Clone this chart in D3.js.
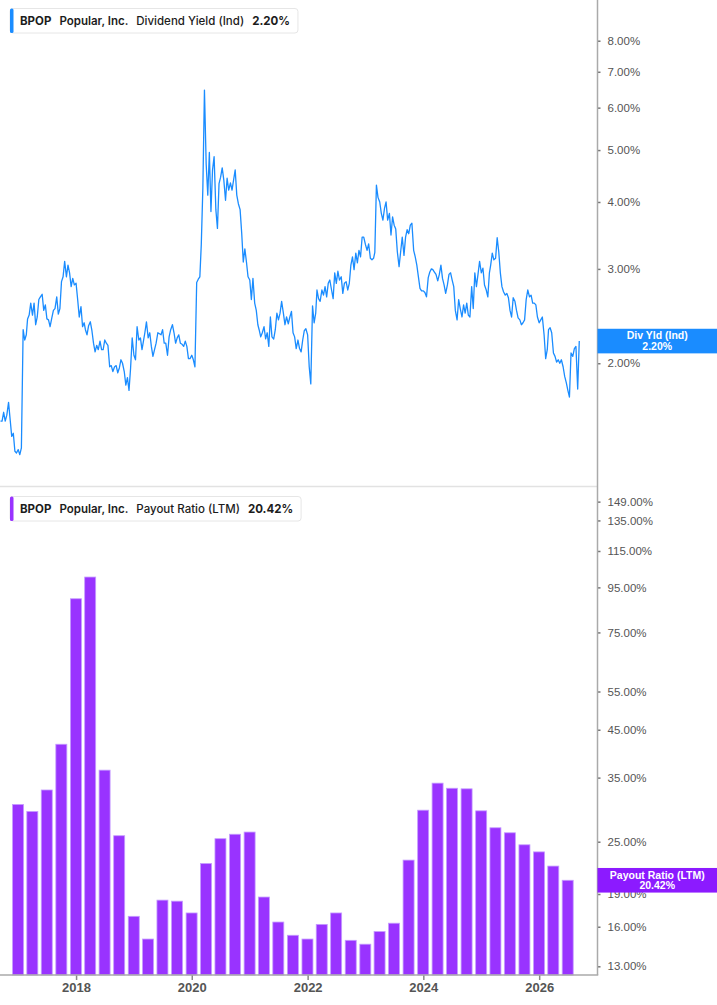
<!DOCTYPE html>
<html>
<head>
<meta charset="utf-8">
<script src="https://cdn.jsdelivr.net/npm/d3@7"></script>
<style>
  html, body { margin: 0; padding: 0; background: #fff; }
  svg { display: block; }
  .valueAxis text { font-family: 'Liberation Sans', Arial, sans-serif; font-size: 11.5px; fill: #555; }
  .valueAxis line { stroke: #777; stroke-width: 1.5; }
  .timeAxis text { font-family: 'Liberation Sans', Arial, sans-serif; font-size: 13px; font-weight: bold; fill: #555; }
  .timeAxis line { stroke: #888; stroke-width: 1.5; }
  .legendText { font-family: Inter, 'Noto Sans', sans-serif; font-size: 11.5px; fill: #1c1c1c; }
  .lastLabel { font-family: 'Liberation Sans', Arial, sans-serif; font-size: 10.5px; font-weight: bold; fill: #fff; }
</style>
</head>
<body>
<div id="chart"></div>
<script>
// Dividend yield (%), read on the 1st, 11th and 21st of every month
const sampleDays = [1, 11, 21];
const yield2016 = [1.56, 1.56, 1.62, 1.56, 1.60, 1.69, 1.57, 1.46, 1.48, 1.37, 1.36];
const yield2017 = [1.38, 1.35, 1.39, 2.31, 2.21, 2.26, 2.42, 2.46, 2.59, 2.46, 2.59, 2.36,
    2.44, 2.63, 2.66, 2.69, 2.51, 2.57, 2.42, 2.41, 2.34, 2.43, 2.51, 2.53,
    2.66, 2.47, 2.53, 2.84, 2.90, 3.10, 2.90, 3.05, 2.95, 2.78, 2.88, 2.80];
const yield2018 = [2.82, 2.63, 2.44, 2.55, 2.34, 2.38, 2.31, 2.26, 2.35, 2.39, 2.30, 2.18,
    2.10, 2.16, 2.12, 2.20, 2.12, 2.12, 2.21, 2.18, 2.16, 1.97, 1.98, 1.93,
    1.97, 1.98, 1.92, 1.96, 2.03, 2.00, 1.93, 1.82, 1.88, 1.78, 1.96, 2.23];
const yield2019 = [2.07, 2.03, 2.34, 2.21, 2.23, 2.12, 2.19, 2.28, 2.39, 2.23, 2.28, 2.15,
    2.06, 2.12, 2.18, 2.28, 2.27, 2.26, 2.31, 2.18, 2.18, 2.07, 2.24, 2.31,
    2.36, 2.28, 2.18, 2.23, 2.26, 2.18, 2.17, 2.15, 2.20, 2.15, 2.04, 2.04];
const yield2020 = [2.07, 2.03, 1.97, 2.83, 2.87, 2.90, 3.33, 4.25, 6.47, 4.70, 4.12, 4.95,
    3.84, 4.59, 4.86, 3.87, 3.57, 4.33, 4.45, 4.63, 4.40, 4.03, 4.43, 4.21,
    4.34, 4.21, 4.40, 4.59, 4.12, 3.97, 3.87, 3.50, 3.09, 3.27, 3.09, 2.90];
const yield2021 = [2.86, 2.63, 2.88, 2.59, 2.51, 2.36, 2.31, 2.24, 2.28, 2.34, 2.22, 2.28,
    2.15, 2.44, 2.24, 2.22, 2.31, 2.48, 2.41, 2.48, 2.61, 2.48, 2.36, 2.44,
    2.37, 2.44, 2.50, 2.28, 2.24, 2.13, 2.21, 2.13, 2.10, 2.21, 2.30, 2.32];
const yield2022 = [2.26, 1.97, 1.83, 2.56, 2.38, 2.48, 2.74, 2.64, 2.61, 2.74, 2.68, 2.78,
    2.66, 2.82, 2.86, 2.74, 2.64, 2.95, 2.82, 2.97, 2.86, 2.90, 2.70, 2.82,
    2.84, 2.74, 2.82, 3.05, 3.16, 2.99, 3.21, 3.08, 3.25, 3.16, 3.44, 3.44];
const yield2023 = [3.33, 3.25, 3.34, 3.14, 3.12, 3.14, 3.22, 4.30, 4.08, 4.00, 3.81, 3.70,
    3.89, 4.00, 3.70, 3.81, 3.47, 3.75, 3.62, 3.56, 3.23, 3.03, 3.23, 3.44,
    3.18, 3.44, 3.55, 3.49, 3.62, 3.65, 3.25, 3.16, 3.05, 2.90, 2.76, 2.73];
const yield2024 = [2.73, 2.71, 2.66, 2.89, 2.96, 3.00, 2.99, 2.96, 2.93, 2.85, 2.93, 3.05,
    2.88, 2.80, 2.70, 2.80, 2.93, 2.95, 2.86, 2.78, 2.51, 2.41, 2.63, 2.53,
    2.44, 2.57, 2.48, 2.59, 2.46, 2.44, 2.78, 2.53, 2.95, 2.78, 2.93, 3.10];
const yield2025 = [2.95, 3.01, 2.80, 2.74, 2.66, 2.95, 3.05, 3.21, 3.12, 3.14, 3.43, 3.23,
    2.95, 2.78, 2.72, 2.68, 2.70, 2.65, 2.51, 2.44, 2.65, 2.61, 2.51, 2.43,
    2.41, 2.36, 2.38, 2.41, 2.63, 2.74, 2.66, 2.68, 2.59, 2.59, 2.57, 2.44];
const yield2026 = [2.38, 2.41, 2.44, 2.26, 2.04, 2.12, 2.31, 2.33, 2.28, 2.09, 2.06, 2.01,
    2.03, 2.00, 2.03, 1.97, 1.89, 1.84, 1.78, 1.73, 2.09, 2.06, 2.13, 2.15,
    1.79, 2.20];

// Payout ratio (LTM, %), one bar per fiscal quarter end
const payoutQuarters = ['2016-12-31',
    '2017-03-31', '2017-06-30', '2017-09-30', '2017-12-31',
    '2018-03-31', '2018-06-30', '2018-09-30', '2018-12-31',
    '2019-03-31', '2019-06-30', '2019-09-30', '2019-12-31',
    '2020-03-31', '2020-06-30', '2020-09-30', '2020-12-31',
    '2021-03-31', '2021-06-30', '2021-09-30', '2021-12-31',
    '2022-03-31', '2022-06-30', '2022-09-30', '2022-12-31',
    '2023-03-31', '2023-06-30', '2023-09-30', '2023-12-31',
    '2024-03-31', '2024-06-30', '2024-09-30', '2024-12-31',
    '2025-03-31', '2025-06-30', '2025-09-30', '2025-12-31',
    '2026-03-31', '2026-06-30'];
const payoutRatios = [30.4,
    29.3, 32.8, 41.7, 89.5,
    100.3, 36.4, 25.8, 16.9,
    15.0, 18.4, 18.3, 17.2,
    22.3, 25.4, 26.0, 26.3,
    18.7, 16.4, 15.3, 15.0,
    16.2, 17.2, 14.9, 14.6,
    15.6, 16.3, 22.7, 29.5,
    34.0, 33.1, 33.0, 29.4,
    26.9, 26.2, 24.6, 23.7,
    22.0, 20.42];

const yieldTicks = [2, 3, 4, 5, 6, 7, 8];
const payoutTicks = [13, 16, 19, 25, 35, 45, 55, 75, 95, 115, 135, 149];
const yearTicks = [2018, 2020, 2022, 2024, 2026];

const yieldLegend = ['BPOP', 'Popular, Inc.', 'Dividend Yield (Ind)', '2.20%'];
const payoutLegend = ['BPOP', 'Popular, Inc.', 'Payout Ratio (LTM)', '20.42%'];
const yieldBadge = ['Div Yld (Ind)', '2.20%'];
const payoutBadge = ['Payout Ratio (LTM)', '20.42%'];

const blue = '#1a8cff',
    purple = '#9933ff',
    purpleBadge = '#8c1aff';

function buildYieldSeries(){
    let years = [[2016, yield2016, 25], [2017, yield2017, 0], [2018, yield2018, 0],
        [2019, yield2019, 0], [2020, yield2020, 0], [2021, yield2021, 0],
        [2022, yield2022, 0], [2023, yield2023, 0], [2024, yield2024, 0],
        [2025, yield2025, 0], [2026, yield2026, 0]];
    let points = [];
    years.forEach(([year, values, first]) => {
        values.forEach((value, i) => {
            let slot = first + i;
            points.push({ date: new Date(year, Math.floor(slot / 3), sampleDays[slot % 3]), value });
        });
    });
    return points;
}

function initChart(targetElemSelector, width, height){
    return d3.select(targetElemSelector)
        .append('svg')
        .attr('width', width)
        .attr('height', height);
}

function addLegend(svg, parts, color, top){
    let g = svg.append('g').attr('transform', 'translate(10,' + top + ')');
    let box = g.append('rect')
        .attr('y', 0.5).attr('height', 24.5)
        .attr('rx', 3).attr('ry', 3)
        .attr('fill', '#fff')
        .attr('stroke', '#e6e6e6');
    g.append('rect')
        .attr('x', 0).attr('y', 0.5)
        .attr('width', 3.5).attr('height', 24.5)
        .attr('rx', 1.5)
        .attr('fill', color);

    let text = g.append('text')
        .attr('class', 'legendText')
        .attr('x', 10)
        .attr('y', 17);
    let weights = [700, 600, 500, 700];
    parts.forEach((part, i) => {
        text.append('tspan')
            .attr('dx', i ? 8 : 0)
            .attr('font-weight', weights[i])
            .text(part);
    });
    box.attr('width', text.node().getBBox().width + 18);
}

function addBadge(svg, lines, color, y, left, width){
    svg.append('rect')
        .attr('x', left).attr('y', y - 12.3)
        .attr('width', width - left).attr('height', 24.6)
        .attr('fill', color);
    svg.append('text')
        .attr('class', 'lastLabel')
        .attr('text-anchor', 'middle')
        .selectAll('tspan')
        .data(lines)
        .enter().append('tspan')
        .attr('x', left + (width - left) / 2)
        .attr('y', (d, i) => y - 1.6 + i * 10.8)
        .text(d => d);
}

function drawChart(targetElemSelector){
    let width = 717,
        height = 1005,
        plotRight = 597.5,
        topPanel = [0, 486],
        bottomPanel = [487, 975];

    let svg = initChart(targetElemSelector, width, height);
    let series = buildYieldSeries();
    let quarters = payoutQuarters.map(d3.timeParse('%Y-%m-%d'));

    let x = d3.scaleTime()
        .domain([new Date(2016, 8, 8), new Date(2027, 0, 4)])
        .range([0, plotRight]);

    let yYield = d3.scaleLog()
        .domain([1.18, 9.53])
        .range([topPanel[1], topPanel[0]]);

    let yPayout = d3.scaleLog()
        .domain([12.42, 160.9])
        .range([bottomPanel[1], bottomPanel[0]]);

    svg.append('clipPath').attr('id', 'topClip')
        .append('rect')
        .attr('x', 0).attr('y', topPanel[0])
        .attr('width', plotRight).attr('height', topPanel[1] - topPanel[0]);

    // Panel separator
    svg.append('line')
        .attr('x1', 0).attr('x2', plotRight)
        .attr('y1', topPanel[1] + 0.5).attr('y2', topPanel[1] + 0.5)
        .attr('stroke', '#e2e2e2').attr('stroke-width', 1.5);

    // Dividend yield line
    svg.append('path')
        .datum(series)
        .attr('clip-path', 'url(#topClip)')
        .attr('fill', 'none')
        .attr('stroke', blue)
        .attr('stroke-width', 1.3)
        .attr('stroke-linejoin', 'round')
        .attr('d', d3.line().x(d => x(d.date)).y(d => yYield(d.value)));

    // Payout ratio bars
    let barWidth = 11;
    svg.append('g')
        .selectAll('rect')
        .data(payoutRatios)
        .enter().append('rect')
        .attr('x', (d, i) => x(quarters[i]) - barWidth / 2)
        .attr('y', d => yPayout(d))
        .attr('width', barWidth)
        .attr('height', d => bottomPanel[1] - yPayout(d))
        .attr('fill', purple)
        .attr('stroke', '#c59cff')
        .attr('stroke-width', 0.8);

    // Right value axes
    let pct = d => d.toFixed(2) + '%';
    svg.append('g')
        .attr('class', 'valueAxis')
        .attr('transform', 'translate(' + plotRight + ',0)')
        .call(d3.axisRight(yYield).tickValues(yieldTicks).tickFormat(pct).tickSize(3).tickPadding(7))
        .call(g => g.select('.domain').remove());

    svg.append('g')
        .attr('class', 'valueAxis')
        .attr('transform', 'translate(' + plotRight + ',0)')
        .call(d3.axisRight(yPayout).tickValues(payoutTicks).tickFormat(pct).tickSize(3).tickPadding(7))
        .call(g => g.select('.domain').remove());

    // Time axis
    svg.append('g')
        .attr('class', 'timeAxis')
        .attr('transform', 'translate(0,' + bottomPanel[1] + ')')
        .call(d3.axisBottom(x)
            .tickValues(yearTicks.map(y => new Date(y, 0, 1)))
            .tickFormat(d3.timeFormat('%Y'))
            .tickSize(5).tickPadding(3))
        .call(g => g.select('.domain').remove());

    // Frame lines
    svg.append('line')
        .attr('x1', 0).attr('x2', plotRight + 0.75)
        .attr('y1', bottomPanel[1]).attr('y2', bottomPanel[1])
        .attr('stroke', '#aaa').attr('stroke-width', 1.5);
    svg.append('line')
        .attr('x1', plotRight).attr('x2', plotRight)
        .attr('y1', 0).attr('y2', bottomPanel[1])
        .attr('stroke', '#aaa').attr('stroke-width', 1.5);

    // Last value badges
    addBadge(svg, yieldBadge, blue, yYield(yield2026[yield2026.length - 1]), plotRight, width);
    addBadge(svg, payoutBadge, purpleBadge, yPayout(payoutRatios[payoutRatios.length - 1]), plotRight, width);

    // Legends
    addLegend(svg, yieldLegend, blue, 8);
    addLegend(svg, payoutLegend, purple, bottomPanel[0] + 9);
}

drawChart('#chart');
</script>
</body>
</html>
